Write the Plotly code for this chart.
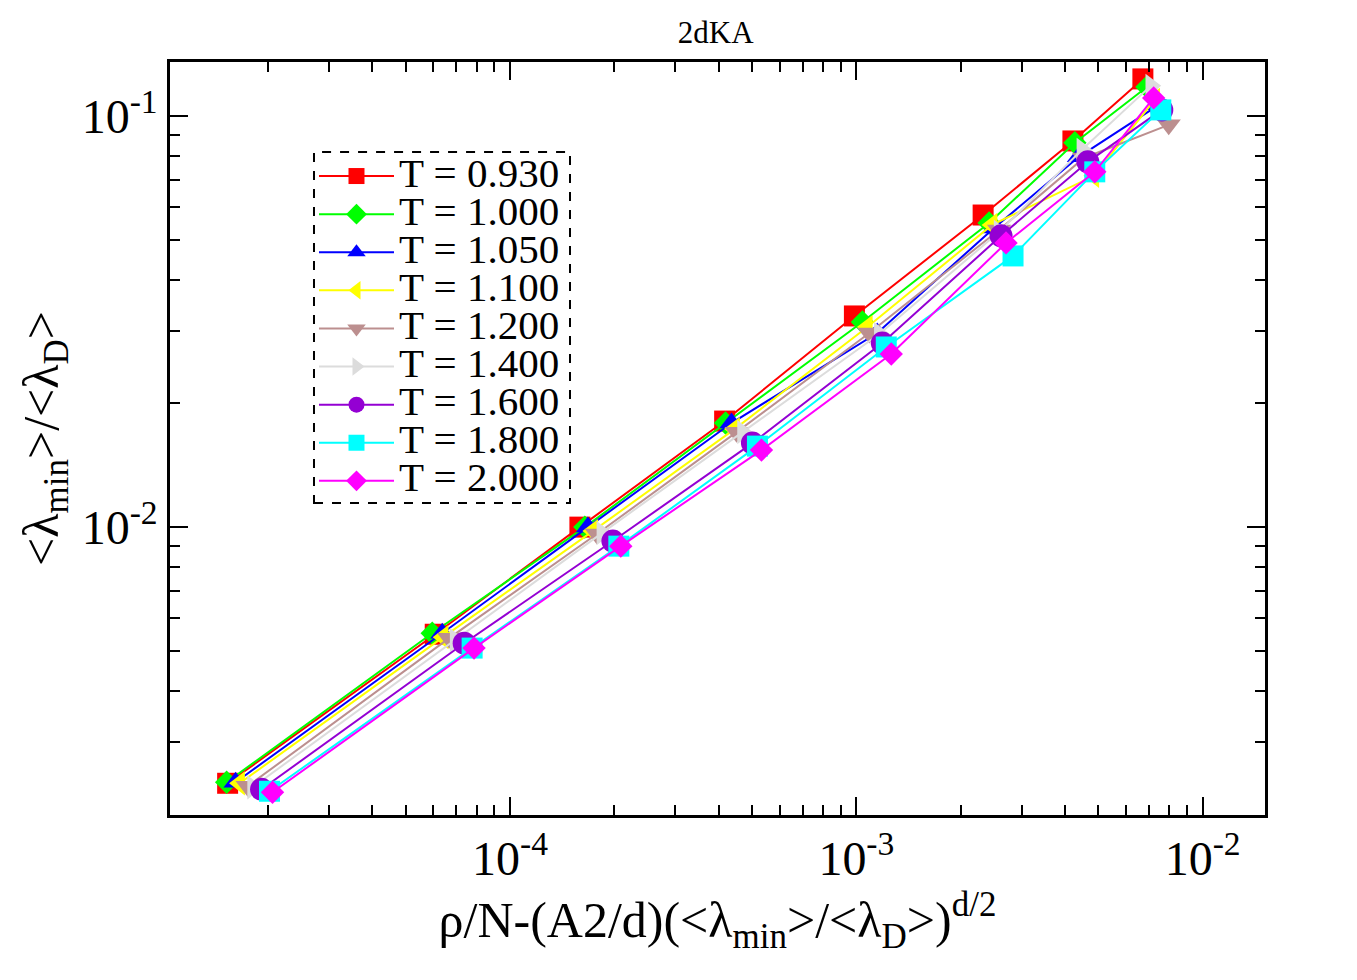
import plotly.graph_objects as go

# ---------------- data ----------------
temperatures = ["0.930", "1.000", "1.050", "1.100", "1.200", "1.400", "1.600", "1.800", "2.000"]

x_T0930 = [1.529e-5, 6.08e-5, 1.591e-4, 4.165e-4, 9.87e-4, 2.323e-3, 4.22e-3, 6.72e-3]
y_T0930 = [2.383e-3, 5.49e-3, 1.000e-2, 1.811e-2, 3.262e-2, 5.74e-2, 8.69e-2, 0.1230]

x_T1000 = [1.519e-5, 5.96e-5, 1.644e-4, 4.19e-4, 1.041e-3, 2.417e-3, 4.276e-3, 6.90e-3]
y_T1000 = [2.397e-3, 5.52e-3, 1.000e-2, 1.791e-2, 3.154e-2, 5.49e-2, 8.60e-2, 0.1176]

x_T1050 = [1.612e-5, 6.37e-5, 1.678e-4, 4.36e-4, 1.149e-3, 2.498e-3, 4.39e-3, 7.47e-3]
y_T1050 = [2.397e-3, 5.52e-3, 1.000e-2, 1.791e-2, 2.965e-2, 5.34e-2, 7.95e-2, 0.1064]

x_T1100 = [1.656e-5, 6.41e-5, 1.734e-4, 4.45e-4, 1.076e-3, 2.466e-3, 4.85e-3, 7.27e-3]
y_T1100 = [2.383e-3, 5.40e-3, 9.78e-3, 1.731e-2, 3.066e-2, 5.43e-2, 7.15e-2, 0.1094]

x_T1200 = [1.746e-5, 6.67e-5, 1.781e-4, 4.51e-4, 1.090e-3, 2.583e-3, 4.54e-3, 7.98e-3]
y_T1200 = [2.343e-3, 5.37e-3, 9.62e-3, 1.702e-2, 2.965e-2, 5.28e-2, 7.90e-2, 9.51e-2]

x_T1400 = [1.805e-5, 6.94e-5, 1.841e-4, 4.69e-4, 1.165e-3, 2.583e-3, 4.48e-3, 7.08e-3]
y_T1400 = [2.330e-3, 5.31e-3, 9.67e-3, 1.702e-2, 2.948e-2, 5.22e-2, 8.27e-2, 0.1183]

x_T1600 = [1.916e-5, 7.37e-5, 1.981e-4, 5.01e-4, 1.188e-3, 2.617e-3, 4.66e-3, 7.62e-3]
y_T1600 = [2.304e-3, 5.22e-3, 9.25e-3, 1.601e-2, 2.803e-2, 5.11e-2, 7.73e-2, 0.1034]

x_T1800 = [2.02e-5, 7.77e-5, 2.061e-4, 5.18e-4, 1.220e-3, 2.834e-3, 4.88e-3, 7.57e-3]
y_T1800 = [2.279e-3, 5.08e-3, 8.99e-3, 1.574e-2, 2.742e-2, 4.565e-2, 7.31e-2, 0.1034]

x_T2000 = [2.061e-5, 7.87e-5, 2.088e-4, 5.32e-4, 1.261e-3, 2.705e-3, 4.88e-3, 7.22e-3]
y_T2000 = [2.266e-3, 5.08e-3, 8.99e-3, 1.539e-2, 2.636e-2, 4.91e-2, 7.31e-2, 0.1106]

x_tickvals = [1e-4, 1e-3, 1e-2]
x_ticktext = ["10<sup>-4</sup>", "10<sup>-3</sup>", "10<sup>-2</sup>"]
y_tickvals = [1e-2, 1e-1]
y_ticktext = ["10<sup>-2</sup>", "10<sup>-1</sup>"]

# ---------------- styles ----------------
xs = [x_T0930, x_T1000, x_T1050, x_T1100, x_T1200, x_T1400, x_T1600, x_T1800, x_T2000]
ys = [y_T0930, y_T1000, y_T1050, y_T1100, y_T1200, y_T1400, y_T1600, y_T1800, y_T2000]
colors = ["#ff0000", "#00ff00", "#0000ff", "#ffff00", "#bc8f8f",
          "#dcdcdc", "#9400d3", "#00ffff", "#ff00ff"]
symbols = ["square", "diamond", "triangle-up", "triangle-left", "triangle-down",
           "triangle-right", "circle", "square", "diamond"]
sizes = [21, 18, 21, 21, 21, 21, 23, 21, 18]

FONT = "Liberation Serif"

fig = go.Figure()
for T, x, y, c, s, sz in zip(temperatures, xs, ys, colors, symbols, sizes):
    fig.add_trace(go.Scatter(
        x=x, y=y, mode="lines+markers",
        name=f'<span style="font-size:41px">T = {T}</span>',
        line=dict(color=c, width=2),
        marker=dict(symbol=s, size=sz, color=c, line=dict(width=0)),
    ))

minor_vals = [k * 10.0 ** e for e in range(-6, 1) for k in range(2, 10)]

axis_common = dict(
    type="log", showgrid=False, zeroline=False,
    showline=True, linecolor="black", linewidth=2.5, mirror="allticks",
    ticks="inside", ticklen=18, tickwidth=2, tickcolor="black",
    tickfont=dict(family=FONT, size=48, color="black"),
    tickmode="array",
    minor=dict(ticks="inside", ticklen=10, tickwidth=1.5, tickcolor="black",
               tickmode="array", tickvals=minor_vals, showgrid=False),
)

fig.update_layout(
    width=1357, height=980,
    margin=dict(l=170, r=92, t=62, b=165),
    paper_bgcolor="white", plot_bgcolor="white",
    font=dict(family=FONT, color="black"),
    title=dict(text="2dKA", x=0.5274, xanchor="center", y=0.967, yanchor="middle",
               font=dict(family=FONT, size=31, color="black")),
    xaxis=dict(axis_common, range=[-4.982, -1.82],
               tickvals=x_tickvals, ticktext=x_ticktext,
               title=dict(text="ρ/N-(A2/d)(&lt;λ<sub>min</sub>&gt;/&lt;λ<sub>D</sub>&gt;)<sup>d/2</sup>",
                          font=dict(family=FONT, size=50), standoff=6)),
    yaxis=dict(axis_common, range=[-2.70, -0.869],
               tickvals=y_tickvals, ticktext=y_ticktext,
               title=dict(text="&lt;λ<sub>min</sub>&gt;/&lt;λ<sub>D</sub>&gt;",
                          font=dict(family=FONT, size=50), standoff=8)),
    legend=dict(x=0.1315, xanchor="left", y=0.8805, yanchor="top",
                bgcolor="rgba(0,0,0,0)", borderwidth=0,
                font=dict(family=FONT, size=27, color="black"),
                itemwidth=75, tracegroupgap=0),
    showlegend=True,
    shapes=[dict(type="rect", xref="paper", yref="paper",
                 x0=0.1315, x1=0.3653, y0=0.4143, y1=0.8805,
                 line=dict(color="black", width=2, dash="dash"),
                 fillcolor="rgba(0,0,0,0)", layer="above")],
)

fig.write_html("out.html")
